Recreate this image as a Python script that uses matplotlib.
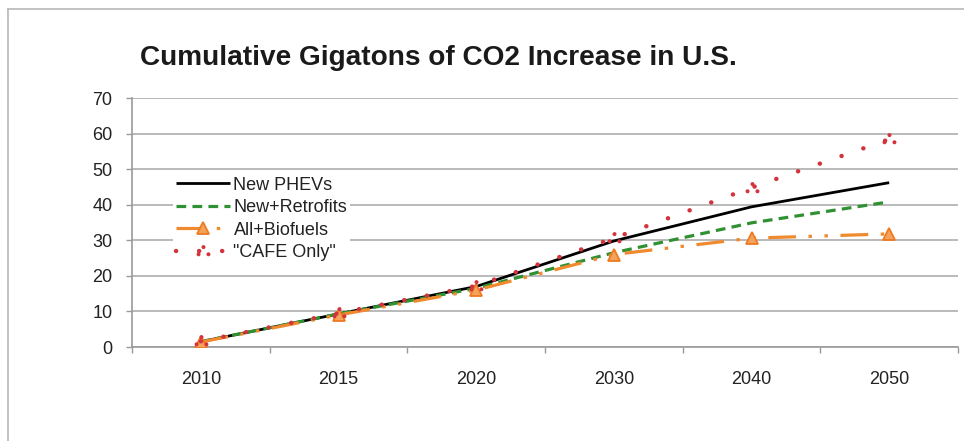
import matplotlib
matplotlib.use("Agg")
import matplotlib.pyplot as plt
from matplotlib.path import Path
from matplotlib.lines import Line2D
import numpy as np

plt.rcParams['font.family'] = ['Liberation Sans', 'DejaVu Sans']
plt.rcParams['lines.scale_dashes'] = False

years = ["2010", "2015", "2020", "2030", "2040", "2050"]
new_phevs = [1.5, 9.3, 17.0, 29.8, 39.4, 46.2]
new_retrofits = [1.5, 9.3, 16.5, 26.5, 34.9, 40.8]
all_biofuels = [1.4, 9.0, 16.0, 26.0, 30.6, 31.8]
cafe_only = [1.6, 9.5, 17.2, 30.6, 44.8, 58.4]
y_ticks = [0, 10, 20, 30, 40, 50, 60, 70]

W, H = 964, 441
fig = plt.figure(figsize=(W / 100, H / 100), dpi=100)
fig.patch.set_facecolor("white")

# outer chart frame (left and top edges)
fig.add_artist(Line2D([8 / W, 8 / W], [0, 1 - 9 / H], color="#b8b8b8", lw=1.2,
                      transform=fig.transFigure))
fig.add_artist(Line2D([8 / W, 1], [1 - 9 / H, 1 - 9 / H], color="#b8b8b8", lw=1.2,
                      transform=fig.transFigure))

ax = fig.add_axes([132 / W, 94 / H, 826 / W, 249 / H])
x = np.arange(len(years)) + 0.5

# triangle of three dots, used as the "CAFE Only" marker
r = 0.25
tri = [(0.0, 0.55), (-0.62, -0.35), (0.62, -0.35)]
dots = Path.make_compound_path(*[Path.circle(c, r) for c in tri])

ax.plot(x, new_phevs, color="black", lw=2.0, solid_capstyle="butt",
        label="New PHEVs", zorder=3)
ax.plot(x, new_retrofits, color="#2f9132", lw=2.3, linestyle=(0, (7, 4.5)),
        label="New+Retrofits", zorder=4)
ax.plot(x, all_biofuels, color="#ef8a2e", lw=2.3,
        linestyle=(0, (20, 9, 2.5, 9, 2.5, 9)),
        marker="^", markersize=8, markerfacecolor="#f3a35c",
        markeredgecolor="#ee7a22", markeredgewidth=1.3,
        label="All+Biofuels", zorder=5)
ax.plot(x, cafe_only, color="#d2333c", lw=3.2, linestyle=(0, (0.1, 16.5)),
        dash_capstyle="round", marker=dots, markersize=10,
        markerfacecolor="#d2333c", markeredgewidth=0,
        label='"CAFE Only"', zorder=6)

ax.set_xlim(0, len(years))
ax.set_ylim(0, 70)
ax.set_yticks(y_ticks)
ax.set_yticklabels([str(v) for v in y_ticks])
ax.set_xticks(x)
ax.set_xticklabels(years)
ax.set_xticks(np.arange(len(years) + 1), minor=True)

ax.grid(axis="y", color="#b4b4b4", lw=1.3)
ax.set_axisbelow(True)
for s in ["top", "right"]:
    ax.spines[s].set_visible(False)
for s in ["left", "bottom"]:
    ax.spines[s].set_color("#9a9a9a")
    ax.spines[s].set_linewidth(1.2)

ax.tick_params(axis="y", length=4, width=1, color="#9a9a9a", pad=10,
               labelsize=13, labelcolor="#222222")
ax.tick_params(axis="x", which="major", length=0, pad=17,
               labelsize=13, labelcolor="#222222")
ax.tick_params(axis="x", which="minor", length=4, width=1, color="#9a9a9a")

fig.text(140 / W, 1 - 58 / H, "Cumulative Gigatons of CO2 Increase in U.S.",
         fontsize=20.2, fontweight="bold", color="#1a1a1a", va="center", ha="left")

leg = ax.legend(loc="upper left", bbox_to_anchor=(173 / W, 1 - 174 / H),
                bbox_transform=fig.transFigure, frameon=True, fontsize=13,
                handlelength=3.0, handletextpad=0.2, labelspacing=0.3,
                borderpad=0.15, borderaxespad=0, numpoints=1, fancybox=False)
leg.get_frame().set_facecolor("white")
leg.get_frame().set_edgecolor("none")
leg.get_frame().set_alpha(1)
for t in leg.get_texts():
    t.set_color("#222222")

fig.savefig("out.png", dpi=100, facecolor="white")
